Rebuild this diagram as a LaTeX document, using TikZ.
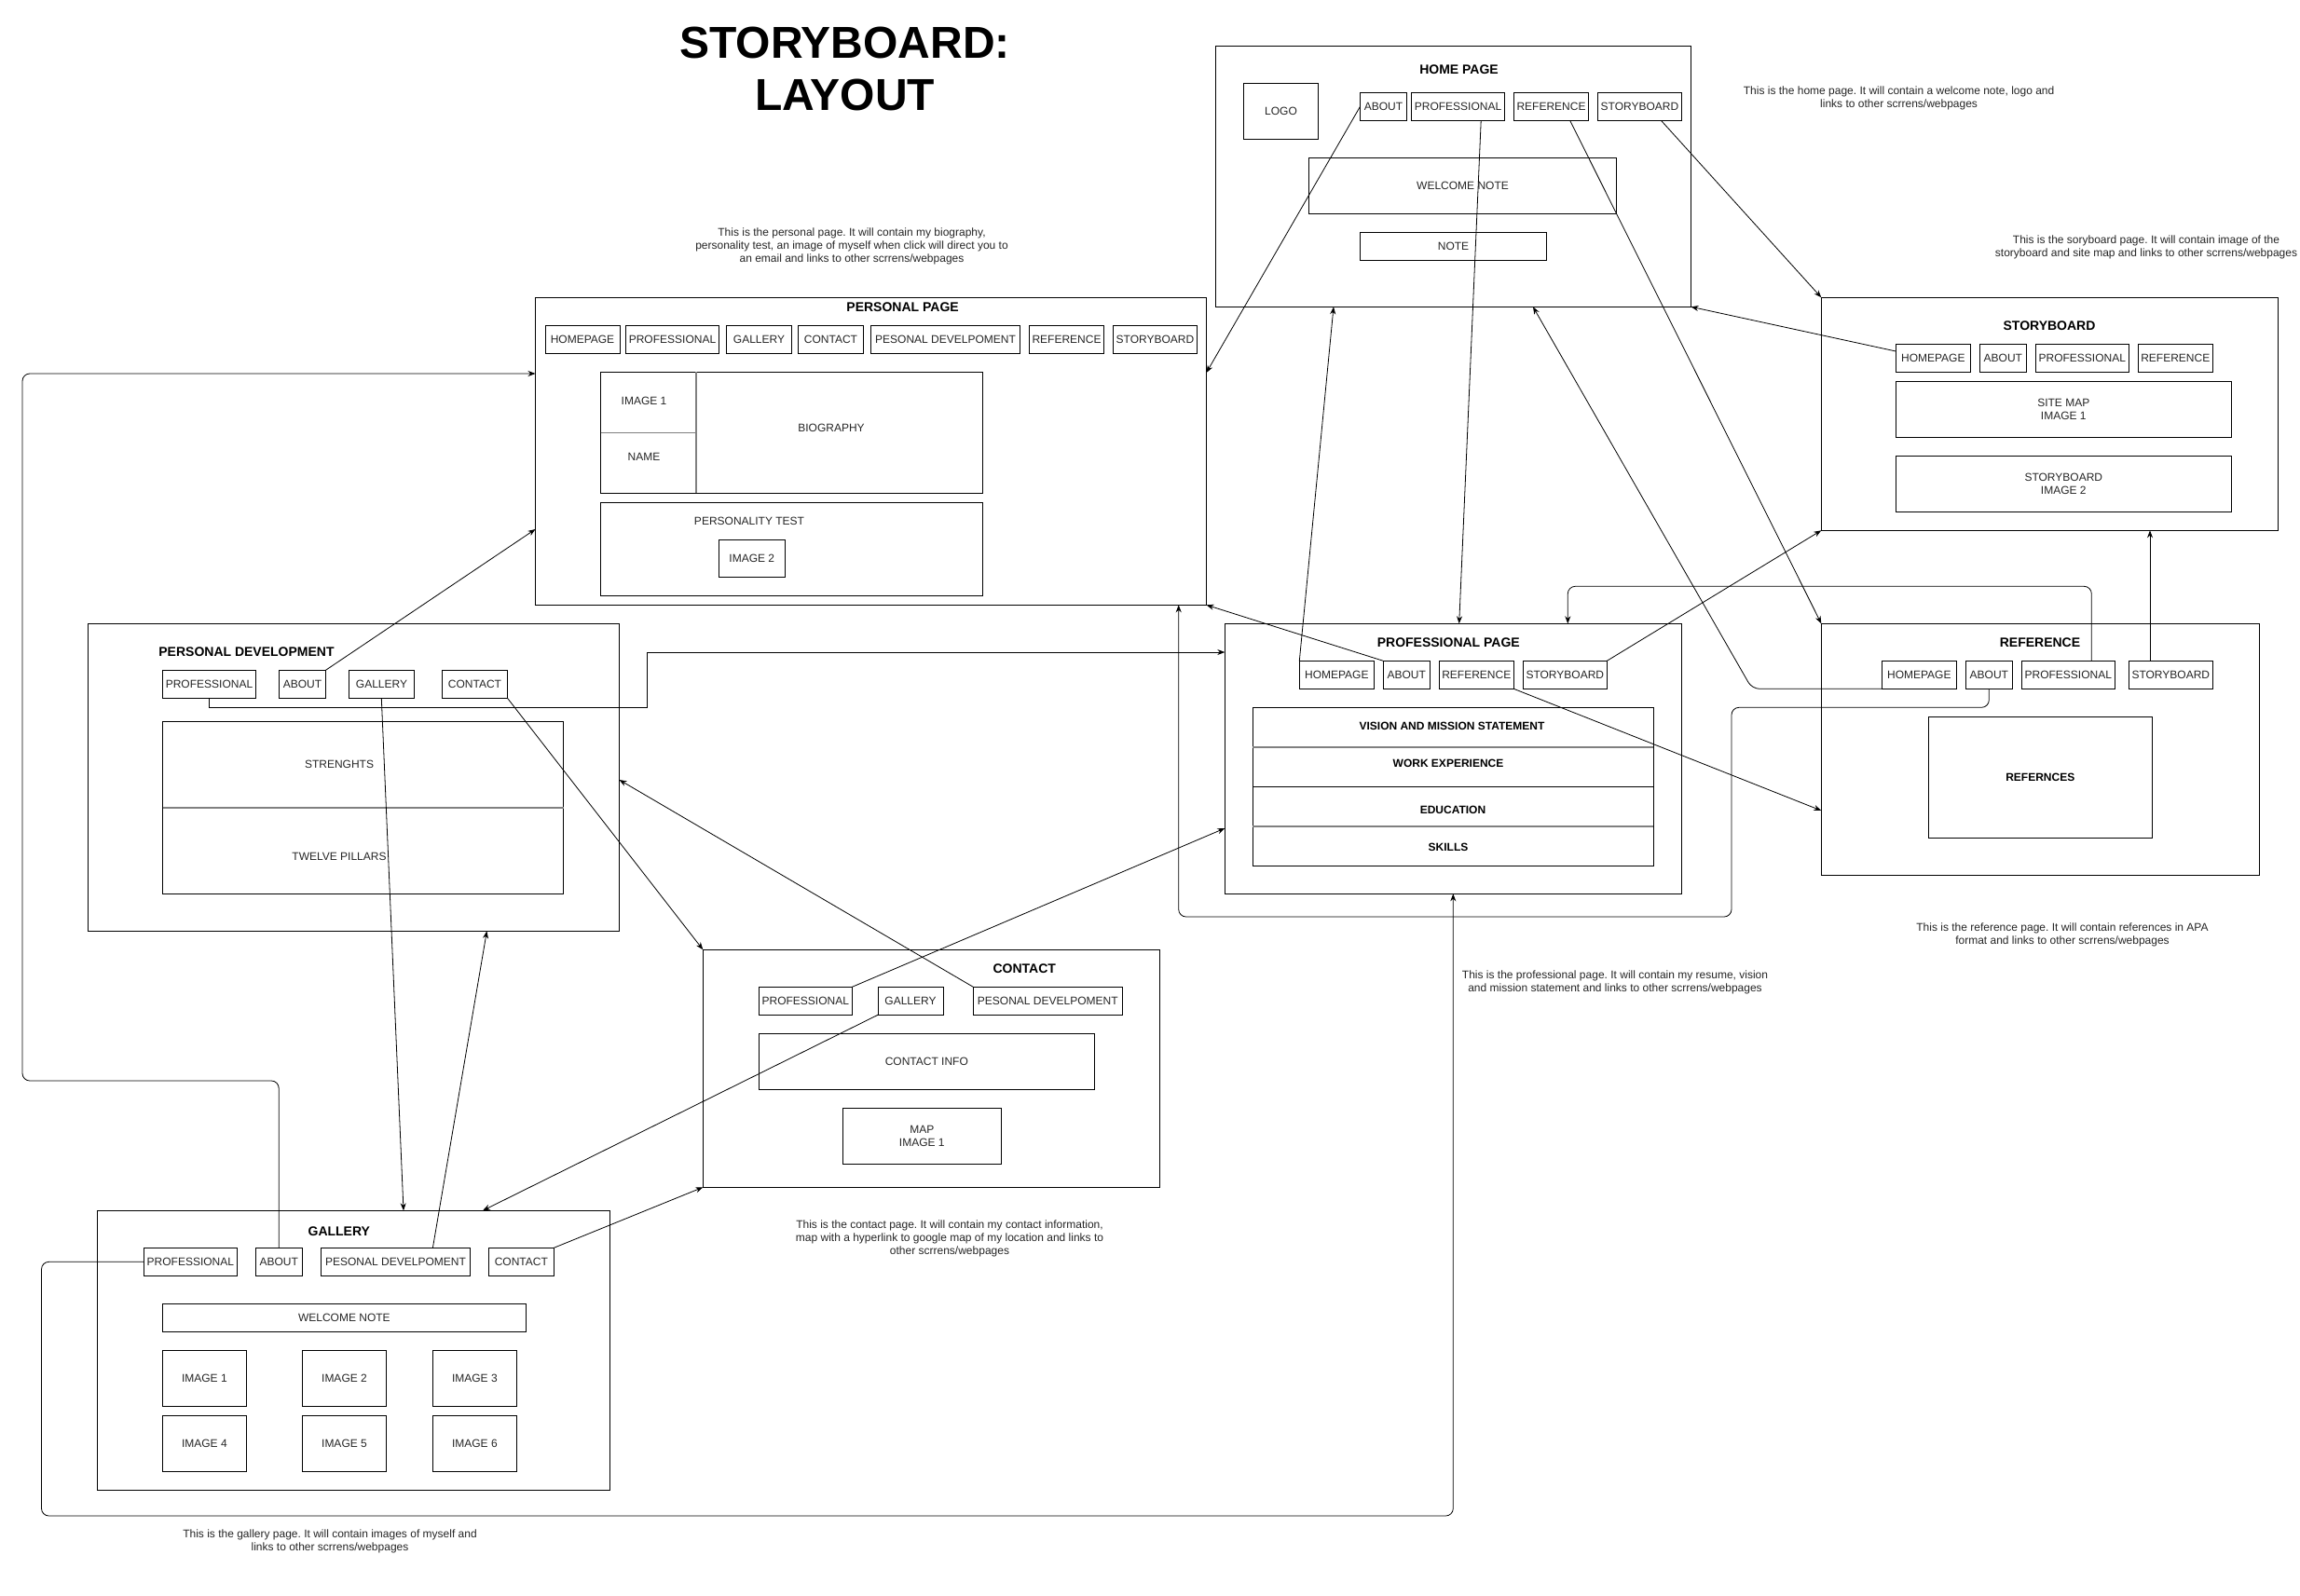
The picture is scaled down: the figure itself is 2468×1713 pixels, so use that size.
\documentclass[tikz,border=0pt]{standalone}
\usepackage{fontspec}
\setmainfont{Liberation Sans}
\usetikzlibrary{arrows.meta,calc}
\frenchspacing
\newcommand\lblfont{\fontsize{12}{14}\selectfont}
\newcommand\bx[7][]{\node[box,#1,minimum width={#5-#3},minimum height={#6-#4}] (#2) at ({(#3+#5)/2},{(#4+#6)/2}) {#7};}
\begin{document}
\begin{tikzpicture}[x=1pt,y=-1pt,
 box/.style={draw,line width=1pt,inner sep=0pt,outer sep=0pt,font=\lblfont,text=black!85,align=center},
 bbox/.style={box,font=\lblfont\bfseries,text=black},
 ttl/.style={inner sep=0pt,font=\fontsize{14}{16}\selectfont\bfseries},
 desc/.style={inner sep=0pt,align=center,font=\fontsize{12}{14}\selectfont,text=black!85},
 txt/.style={inner sep=0pt,font=\lblfont,text=black!85,align=center},
 btxt/.style={inner sep=0pt,font=\lblfont\bfseries},
 div/.style={line width=1.5pt,black!50},
 con/.style={line width=0.8pt,-{Stealth[length=8pt,width=6pt]}},
 conr/.style={con,rounded corners=8pt}]
\fill[white] (0,0) rectangle (2468,1713);
\useasboundingbox (0,0) rectangle (2468,1713);

\node[font=\fontsize{48}{56}\selectfont\bfseries,align=center,inner sep=0pt] (maintitle) at (906.6,73.8) {STORYBOARD:\\LAYOUT};

% ---------------- HOME PAGE
\bx{hp}{1304.5}{49.3}{1814.5}{329.3}{}
\node[ttl] (hpt) at (1565.5,75) {HOME PAGE};
\bx{hlogo}{1334.5}{89.3}{1414.5}{149.3}{LOGO}
\bx{habout}{1459.5}{99.3}{1509.5}{129.3}{ABOUT}
\bx{hprof}{1514.5}{99.3}{1614.5}{129.3}{PROFESSIONAL}
\bx{href}{1624.5}{99.3}{1704.5}{129.3}{REFERENCE}
\bx{hsb}{1714.5}{99.3}{1804.5}{129.3}{STORYBOARD}
\bx{hwel}{1404.5}{169.3}{1734.5}{229.3}{WELCOME NOTE}
\bx{hnote}{1459.5}{249.3}{1659.5}{279.3}{NOTE}
\node[desc] (hdesc) at (2037.6,105.5) {This is the home page. It will contain a welcome note, logo and\\links to other scrrens/webpages};

% ---------------- PERSONAL PAGE
\bx{pp}{574.5}{319.3}{1294.5}{649.3}{}
\node[ttl] (ppt) at (968.6,330) {PERSONAL PAGE};
\bx{phome}{585}{349.3}{665}{379.3}{HOMEPAGE}
\bx{pprof}{671.5}{349.3}{771.5}{379.3}{PROFESSIONAL}
\bx{pgal}{779.5}{349.3}{849.5}{379.3}{GALLERY}
\bx{pcon}{856.5}{349.3}{926.5}{379.3}{CONTACT}
\bx{ppd}{934.5}{349.3}{1094.5}{379.3}{PESONAL DEVELPOMENT}
\bx{pref}{1104.5}{349.3}{1184.5}{379.3}{REFERENCE}
\bx{psb}{1194.5}{349.3}{1284.5}{379.3}{STORYBOARD}
\bx{pbio}{644.5}{399.3}{1054.5}{529.3}{}
\draw[div] (747,0 |- pbio.north) -- (747,0 |- pbio.south);
\draw[div] (pbio.west |- 0,464.3) -- (747,464.3);
\node[txt] (pimg1) at (691,430) {IMAGE 1};
\node[txt] (pname) at (691,490) {NAME};
\node[txt] (pbiot) at (892,459.3) {BIOGRAPHY};
\bx{ppt2}{644.5}{539.3}{1054.5}{639.3}{}
\node[txt] (ppers) at (804,559.3) {PERSONALITY TEST};
\bx{pimg2}{771.5}{579.3}{842}{619.3}{IMAGE 2}
\node[desc] (pdesc) at (914,264.7) {This is the personal page. It will contain my biography,\\personality test, an image of myself when click will direct you to\\an email and links to other scrrens/webpages};

% ---------------- PERSONAL DEVELOPMENT
\bx{pd}{94.5}{669.3}{664.5}{999.3}{}
\node[ttl] (pdt) at (264.5,700) {PERSONAL DEVELOPMENT};
\bx{dprof}{174.5}{719.3}{274.5}{749.3}{PROFESSIONAL}
\bx{dabout}{299.5}{719.3}{349.5}{749.3}{ABOUT}
\bx{dgal}{374.5}{719.3}{444.5}{749.3}{GALLERY}
\bx{dcon}{474.5}{719.3}{544.5}{749.3}{CONTACT}
\bx{dinner}{174.5}{774.3}{604.5}{959.3}{}
\draw[div] (dinner.west |- 0,867) -- (dinner.east |- 0,867);
\node[txt] (dstr) at (364,820) {STRENGHTS};
\node[txt] (dtwp) at (364,919.3) {TWELVE PILLARS};

% ---------------- PROFESSIONAL PAGE
\bx{pr}{1314.3}{669.3}{1804.3}{959.3}{}
\node[ttl] (prt) at (1554.3,690) {PROFESSIONAL PAGE};
\bx{rhome}{1394.3}{709.3}{1474.3}{739.3}{HOMEPAGE}
\bx{rabout}{1484.3}{709.3}{1534.3}{739.3}{ABOUT}
\bx{rref}{1544.3}{709.3}{1624.3}{739.3}{REFERENCE}
\bx{rsb}{1634.3}{709.3}{1724.3}{739.3}{STORYBOARD}
\bx{rinner}{1344.3}{759.3}{1774.3}{929.3}{}
\draw[div] (rinner.west |- 0,802) -- (rinner.east |- 0,802);
\draw[line width=1pt] (rinner.west |- 0,844.3) -- (rinner.east |- 0,844.3);
\draw[div] (rinner.west |- 0,887) -- (rinner.east |- 0,887);
\node[btxt] (rvis) at (1558,779.3) {VISION AND MISSION STATEMENT};
\node[btxt] (rwork) at (1554,819.3) {WORK EXPERIENCE};
\node[btxt] (redu) at (1559,869.3) {EDUCATION};
\node[btxt] (rskl) at (1554,909.3) {SKILLS};
\node[desc] (prdesc) at (1733,1054) {This is the professional page. It will contain my resume, vision\\and mission statement and links to other scrrens/webpages};

% ---------------- STORYBOARD
\bx{sb}{1954.3}{319.3}{2444.3}{569.3}{}
\node[ttl] (sbt) at (2199,350) {STORYBOARD};
\bx{shome}{2034.3}{369.3}{2114.3}{399.3}{HOMEPAGE}
\bx{sabout}{2124.3}{369.3}{2174.3}{399.3}{ABOUT}
\bx{sprof}{2184.3}{369.3}{2284.3}{399.3}{PROFESSIONAL}
\bx{sref}{2294.3}{369.3}{2374.3}{399.3}{REFERENCE}
\bx{ssite}{2034.3}{409.3}{2394.3}{469.3}{SITE MAP\\IMAGE 1}
\bx{ssbimg}{2034.3}{489.3}{2394.3}{549.3}{STORYBOARD\\IMAGE 2}
\node[desc] (sbdesc) at (2303,265.3) {This is the soryboard page. It will contain image of the\\storyboard and site map and links to other scrrens/webpages};

% ---------------- REFERENCE
\bx{rf}{1954.3}{669.3}{2424.3}{939.3}{}
\node[ttl] (rft) at (2189,690) {REFERENCE};
\bx{fhome}{2019.3}{709.3}{2099.3}{739.3}{HOMEPAGE}
\bx{fabout}{2109.3}{709.3}{2159.3}{739.3}{ABOUT}
\bx{fprof}{2169.3}{709.3}{2269.3}{739.3}{PROFESSIONAL}
\bx{fsb}{2284.3}{709.3}{2374.3}{739.3}{STORYBOARD}
\bx[bbox]{frefs}{2069.3}{769.3}{2309.3}{899.3}{REFERNCES}
\node[desc] (rfdesc) at (2213,1003) {This is the reference page. It will contain references in APA\\format and links to other scrrens/webpages};

% ---------------- CONTACT
\bx{ct}{754.3}{1019.3}{1244.3}{1274.3}{}
\node[ttl] (ctt) at (1099.3,1040) {CONTACT};
\bx{cprof}{814.3}{1059.3}{914.3}{1089.3}{PROFESSIONAL}
\bx{cgal}{942}{1059.3}{1012}{1089.3}{GALLERY}
\bx{cpd}{1044.3}{1059.3}{1204.3}{1089.3}{PESONAL DEVELPOMENT}
\bx{cinfo}{814.3}{1109.3}{1174.3}{1169.3}{CONTACT INFO}
\bx{cmap}{904.3}{1189.3}{1074.3}{1249.3}{MAP\\IMAGE 1}
\node[desc] (ctdesc) at (1019,1329.7) {This is the contact page. It will contain my contact information,\\map with a hyperlink to google map of my location and links to\\other scrrens/webpages};

% ---------------- GALLERY
\bx{gl}{104.1}{1299.3}{654.6}{1599.3}{}
\node[ttl] (glt) at (363.8,1321.3) {GALLERY};
\bx{gprof}{154.4}{1339.3}{254.4}{1369.3}{PROFESSIONAL}
\bx{gabout}{274.2}{1339.3}{324.2}{1369.3}{ABOUT}
\bx{gpd}{344.5}{1339.3}{504.5}{1369.3}{PESONAL DEVELPOMENT}
\bx{gcon}{524.3}{1339.3}{594.3}{1369.3}{CONTACT}
\bx{gwel}{174.4}{1399.3}{564.4}{1429.3}{WELCOME NOTE}
\bx{gi1}{174.4}{1449.3}{264.4}{1509.3}{IMAGE 1}
\bx{gi2}{324.5}{1449.3}{414.5}{1509.3}{IMAGE 2}
\bx{gi3}{464.4}{1449.3}{554.4}{1509.3}{IMAGE 3}
\bx{gi4}{174.4}{1519.3}{264.4}{1579.3}{IMAGE 4}
\bx{gi5}{324.5}{1519.3}{414.5}{1579.3}{IMAGE 5}
\bx{gi6}{464.4}{1519.3}{554.4}{1579.3}{IMAGE 6}
\node[desc] (gldesc) at (354,1654.7) {This is the gallery page. It will contain images of myself and\\links to other scrrens/webpages};

% ---------------- CONNECTORS
% home page
\draw[con] (habout.west) -- (pp.east |- 0,400);
\draw[con] (1589.2,0 |- hprof.south) -- (1565.7,0 |- pr.north);
\draw[con] (1684.6,0 |- href.south) -- (rf.north west);
\draw[con] (1782.4,0 |- hsb.south) -- (sb.north west);
% storyboard
\draw[con] (shome.west |- 0,377) -- (hp.south east);
% professional
\draw[con] (rhome.north west) -- (1431,0 |- hp.south);
\draw[con] (rabout.north west) -- (pp.south east);
\draw[con] (rref.south east) -- (rf.west |- 0,870);
\draw[con] (rsb.north east) -- (sb.south west);
% reference
\draw[conr] (fhome.south west) -- (1880,0 |- fhome.south) -- (1645,0 |- hp.south);
\draw[conr] (fabout.south) -- (fabout.south |- 0,759.3) -- (1858,759.3) -- (1858,984) -- (1264.7,984) -- (1264.7,0 |- pp.south);
\draw[conr] (2244.3,0 |- fprof.north) -- (2244.3,629.3) -- (1682.3,629.3) -- (1682.3,0 |- pr.north);
\draw[con] (2307,0 |- fsb.north) -- (2307,0 |- sb.south);
% personal development
\draw[con] (dprof.south) -- (dprof.south |- 0,759.3) -- (694.5,759.3) -- (694.5,700) -- (pr.west |- 0,700);
\draw[con] (dabout.north east) -- (pp.west |- 0,568);
\draw[con] (409.3,0 |- dgal.south) -- (433,0 |- gl.north);
\draw[con] (dcon.south east) -- (ct.north west);
% contact
\draw[con] (cprof.north east) -- (pr.west |- 0,889);
\draw[con] (cgal.south west) -- (518,0 |- gl.north);
\draw[con] (cpd.north west) -- (pd.east |- 0,837);
% gallery
\draw[conr] (gabout.north) -- (gabout.north |- 0,1160) -- (24,1160) -- (24,401) -- (pp.west |- 0,401);
\draw[con] (464.4,0 |- gpd.north) -- (522.4,0 |- pd.south);
\draw[con] (gcon.north east) -- (ct.south west);
\draw[conr] (gprof.west) -- (44.5,0 |- gprof.west) -- (44.5,1627) -- (1559.3,1627) -- (pr.south);
\end{tikzpicture}
\end{document}
